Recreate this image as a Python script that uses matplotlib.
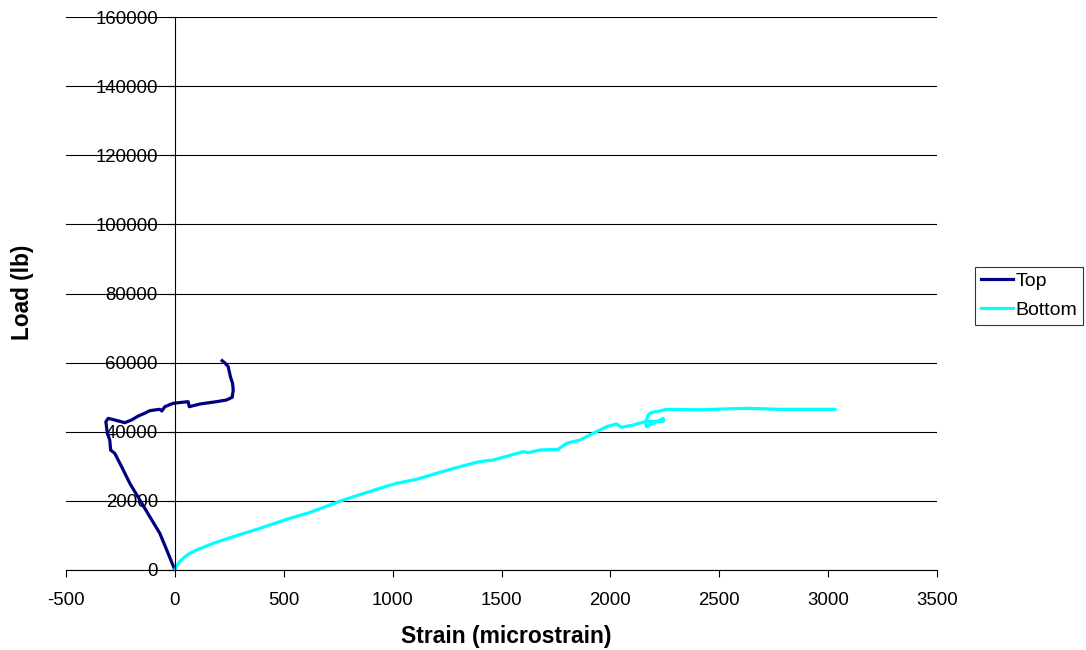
import matplotlib
matplotlib.use("Agg")
import matplotlib.pyplot as plt

plt.rcParams['font.family'] = ['Liberation Sans', 'DejaVu Sans']

# Strain gauge readings (microstrain) against applied load (lb)
top_strain = [0, -31, -69, -115, -161, -207, -237, -276, -285, -295, -299, -310,
              -314, -317, -306, -270, -230, -199, -168, -140, -115, -69, -60,
              -46, -8, 30, 61, 66, 115, 191, 237, 263, 268, 265, 255, 245, 230, 217]
top_load = [0, 4800, 10600, 15400, 20250, 25080, 28930, 33760, 34200, 34700, 37600, 39500,
            41470, 42900, 43880, 43300, 42620, 43400, 44560, 45300, 46100, 46500, 46000,
            47250, 48230, 48500, 48700, 47250, 48030, 48700, 49190, 49960, 52000, 54020, 55930,
            58830, 59900, 60560]

bottom_strain = [0, 10, 22, 38, 65, 100, 176, 268, 390, 513, 617, 773, 941, 1018, 1110, 1202,
                 1309, 1397, 1462, 1600, 1623, 1676, 1760, 1799, 1860, 1921, 1952,
                 1982, 2028, 2051, 2105, 2159, 2166, 2243, 2243, 2166, 2166, 2174, 2181,
                 2204, 2227, 2258, 2411, 2518, 2625, 2779, 3031]
bottom_load = [0, 1300, 2400, 3380, 4700, 5790, 7720, 9640, 12050, 14660, 16580, 20250, 23630,
               25080, 26240, 27980, 29900, 31330, 31830, 34230, 33940, 34720, 34920, 36660,
               37610, 39550, 40500, 41460, 42240, 41290, 41950, 42910, 41460, 43880, 43000,
               42900, 43500, 44850, 45340, 45810, 46000, 46490, 46350, 46580, 46780, 46490, 46490]

x_ticks = [-500, 0, 500, 1000, 1500, 2000, 2500, 3000, 3500]
y_ticks = [0, 20000, 40000, 60000, 80000, 100000, 120000, 140000, 160000]

W, H = 1086, 650
fig = plt.figure(figsize=(W / 100, H / 100), dpi=100)
ax = fig.add_axes([66 / W, (H - 570) / H, 871 / W, 553 / H])

ax.plot(top_strain, top_load, color='#000080', lw=2.3, label='Top', solid_joinstyle='round')
ax.plot(bottom_strain, bottom_load, color='#00FFFF', lw=2.3, label='Bottom', solid_joinstyle='round')

ax.set_xlim(-500, 3500)
ax.set_ylim(0, 160000)
ax.set_xticks(x_ticks)
ax.set_yticks(y_ticks)
ax.set_xticklabels([str(v) for v in x_ticks])
ax.set_yticklabels([str(v) for v in y_ticks])

ax.grid(axis='y', color='black', lw=0.8)
ax.set_axisbelow(True)

for side in ('top', 'right'):
    ax.spines[side].set_visible(False)
ax.spines['left'].set_position(('data', 0))
ax.spines['left'].set_color('black')
ax.spines['left'].set_linewidth(0.8)
ax.spines['bottom'].set_color('black')
ax.spines['bottom'].set_linewidth(0.8)

ax.tick_params(axis='x', direction='out', length=5, width=0.8, pad=11, labelsize=13.4)
ax.tick_params(axis='y', direction='out', length=5, width=0.8, pad=7.2, labelsize=13.4)

fig.text(506 / W, 1 - 636 / H, 'Strain (microstrain)', ha='center', va='center',
         fontsize=16.5, fontweight='bold')
fig.text(23 / W, 1 - 292 / H, 'Load (lb)', ha='center', va='center', rotation=90,
         fontsize=16.3, fontweight='bold')

leg = fig.legend(loc='upper left', bbox_to_anchor=(975 / W, 1 - 266.7 / H),
                 frameon=True, fancybox=False, shadow=False, fontsize=14,
                 handlelength=1.63, handletextpad=0.17, borderpad=0.3,
                 labelspacing=0.58, borderaxespad=0)
leg.get_frame().set_edgecolor('black')
leg.get_frame().set_linewidth(0.8)

fig.savefig('out.png', dpi=100)
